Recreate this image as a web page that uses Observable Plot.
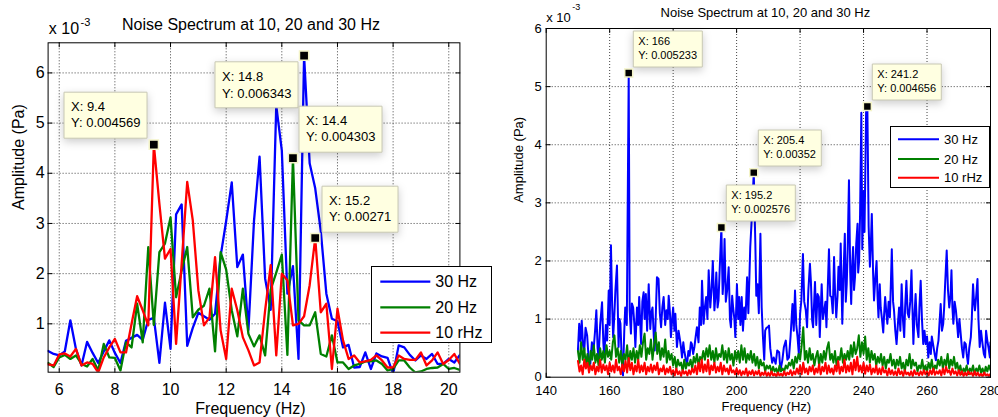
<!DOCTYPE html>
<html><head><meta charset="utf-8">
<script src="https://cdn.jsdelivr.net/npm/d3@7"></script>
<script src="https://cdn.jsdelivr.net/npm/@observablehq/plot@0.6"></script>
<style>
body{margin:0;background:#fff;}
#wrap{position:relative;width:998px;height:417px;overflow:hidden;font-family:"Liberation Sans",Arial,sans-serif;}
#wrap > svg, #wrap > .panel{position:absolute;top:0;}
g[aria-label="tip"]{filter:none !important;}
</style></head><body><div id="wrap"></div>
<script>
// ---------- shared ----------
const seriesNames = ["30 Hz", "20 Hz", "10 rHz"];
const seriesColors = ["#0000ff", "#008000", "#ff0000"];
const chartTitle = "Noise Spectrum at 10, 20 and 30 Hz";
const xLabel = "Frequency (Hz)";
const yLabel = "Amplitude (Pa)";
const yMultiplier = "x 10";
const yExponent = "-3";

// ---------- left panel (values in units of 1e-3 Pa), bins every 0.2 Hz from 5.6 Hz ----------
const leftStartHz = 5.6, leftStepHz = 0.2;
const leftBlue = [0.46,0.40,0.37,0.45,1.07,0.5,0.17,0.64,0.42,0.22,
  0.45,0.67,0.42,0.22,0.66,0.72,0.78,0.68,1.08,1.12,
  0.22,1.42,0.5,3.18,3.38,0.56,0.92,1.22,1.15,1.08,
  1.2,2.35,3.05,3.82,2.13,2.38,0.88,3.05,4.33,1.9,
  1.28,5.35,4.45,1.6,2.15,0.3,6.343,4.2,3.7,2.85,
  1.6,1.1,1.05,0.53,0.58,0.13,0.14,0.43,0.1,0.41,
  0.35,0.32,0.0,0.57,0.53,0.38,0.27,0.37,0.3,0.4,
  0.2,0.2,0.3,0.23,0.38];
const leftGreen = [0.22,0.14,0.33,0.38,0.3,0.37,0.2,0.15,0.3,0.07,
  0.6,0.33,0.32,0.07,0.63,0.53,1.4,0.63,2.53,0.98,
  2.43,2.6,3.12,1.53,2.06,2.53,1.13,1.28,1.36,1.7,
  0.45,2.43,2.08,1.27,0.75,1.7,0.8,0.55,0.77,0.37,
  1.68,2.02,2.38,0.38,4.303,1.07,0.97,0.97,1.23,0.4,
  0.35,0.77,0.23,0.23,0.1,0.17,0.2,0.25,0.25,0.27,
  0.2,0.07,0.1,0.27,0.27,0.13,0.03,0.05,0.1,0.12,
  0.13,0.2,0.1,0.12,0.08];
const leftRed = [0.19,0.17,0.39,0.41,0.35,0.5,0.17,0.23,0.2,0.03,
  0.33,0.53,0.7,0.43,0.43,1.0,1.55,1.27,0.97,4.569,
  3.39,2.3,2.49,0.6,2.2,3.83,3.06,1.67,0.97,1.13,
  2.33,0.87,0.3,1.7,1.27,0.73,0.47,0.17,0.23,1.27,
  2.17,0.37,2.0,1.87,0.97,1.0,1.15,1.77,2.71,1.23,
  1.4,0.1,1.3,0.67,0.3,0.37,0.23,0.25,0.28,0.37,
  0.27,0.13,0.13,0.37,0.3,0.28,0.28,0.43,0.17,0.27,
  0.43,0.2,0.28,0.4,0.2];
const leftXTicks = [6, 8, 10, 12, 14, 16, 18, 20];
const leftYTicks = [1, 2, 3, 4, 5, 6];
const leftTipX = [9.4, 14.8, 14.4, 15.2];
const leftTipY = [0.004569, 0.006343, 0.004303, 0.00271];

// ---------- right panel ----------
// 30 Hz trace: [frequency Hz, amplitude 1e-3 Pa]
const rightBlue = [[150.0,0.46],[150.4,0.92],[150.8,0.62],[151.2,0.97],[151.6,0.55],[152.0,0.46],[152.4,0.85],[152.9,0.72],[153.4,0.3],[153.9,0.23],
[154.4,0.6],[154.9,0.45],[155.4,0.8],[155.8,1.15],[156.2,0.5],[156.5,0.34],[157.0,0.9],[157.6,1.29],[158.0,0.6],[158.3,0.34],
[158.8,0.9],[159.2,0.63],[159.7,1.49],[160.0,0.9],[160.4,2.27],[160.8,1.2],[161.1,0.69],[161.5,1.1],[161.8,1.49],[162.3,1.92],
[162.8,0.52],[163.1,1.0],[163.4,0.92],[163.8,0.3],[164.2,0.03],[164.6,0.8],[164.9,1.2],[165.4,0.9],[166.0,5.233],[166.3,1.15],
[166.7,0.75],[167.0,1.27],[167.4,1.2],[167.8,0.9],[168.1,0.52],[168.6,1.2],[169.0,0.9],[169.3,1.38],[169.9,0.57],[170.3,1.3],
[170.7,1.46],[171.0,1.0],[171.4,1.43],[171.8,0.8],[172.3,1.6],[172.8,0.83],[173.1,1.1],[173.5,1.2],[173.9,0.7],[174.2,0.46],
[174.6,1.2],[174.9,1.72],[175.4,1.69],[175.8,1.1],[176.2,0.86],[176.6,1.2],[177.0,1.38],[177.5,0.9],[177.9,1.15],[178.3,1.0],
[178.6,1.4],[179.0,1.1],[179.3,0.69],[179.7,1.0],[180.0,1.2],[180.4,0.8],[180.7,1.09],[181.2,0.52],[181.7,0.8],[182.1,0.66],
[182.5,0.5],[182.8,0.34],[183.2,0.6],[183.5,0.46],[184.0,0.3],[184.4,0.23],[184.8,0.45],[185.2,0.37],[185.6,0.6],[185.9,0.57],
[186.3,0.4],[186.7,0.52],[187.1,0.7],[187.5,0.86],[188.0,0.6],[188.4,1.2],[188.8,0.9],[189.1,1.66],[189.6,0.92],[190.0,1.2],
[190.4,1.38],[190.8,1.0],[191.2,1.84],[191.7,1.2],[192.1,1.5],[192.5,2.0],[193.0,1.15],[193.3,1.4],[193.6,1.8],[194.0,1.2],
[194.3,1.32],[194.7,1.9],[195.2,2.576],[195.6,1.43],[195.9,1.7],[196.2,2.38],[196.6,1.3],[197.0,1.49],[197.5,1.89],[197.9,1.0],
[198.2,0.86],[198.6,1.4],[198.9,1.2],[199.3,1.0],[199.6,0.69],[200.1,1.6],[200.5,1.0],[200.8,1.38],[201.2,0.9],[201.6,1.38],
[202.0,0.8],[202.4,1.2],[202.8,1.0],[203.3,1.72],[203.7,1.1],[204.3,2.24],[204.9,2.87],[205.4,3.52],[205.9,2.3],[206.2,1.4],
[206.6,1.6],[207.0,1.1],[207.5,2.47],[207.9,1.2],[208.3,0.69],[208.7,0.3],[209.0,0.8],[209.4,0.85],[209.8,0.86],[210.2,0.89],
[210.6,0.5],[211.2,0.25],[211.7,0.34],[212.3,0.23],[212.8,0.46],[213.4,0.43],[213.8,0.11],[214.4,0.29],[214.9,0.52],[215.5,0.63],
[216.0,0.3],[216.5,0.34],[217.0,0.7],[217.6,1.26],[218.0,0.8],[218.4,1.49],[218.8,0.9],[219.2,0.69],[219.6,0.4],[220.0,1.09],
[220.4,1.32],[220.9,2.12],[221.3,1.3],[221.8,1.15],[222.2,0.86],[222.6,1.49],[223.1,1.95],[223.4,1.66],[223.8,0.98],[224.1,0.86],
[224.7,1.64],[225.1,0.9],[225.5,1.43],[225.9,1.38],[226.2,0.69],[226.8,1.6],[227.2,1.0],[227.6,1.15],[228.0,1.3],[228.3,0.86],
[228.7,1.5],[229.1,2.2],[229.5,1.4],[229.9,1.38],[230.3,1.1],[230.7,2.07],[231.0,1.5],[231.4,1.03],[231.8,1.4],[232.1,1.9],
[232.5,1.5],[232.8,2.3],[233.3,0.92],[233.7,1.8],[234.1,2.47],[234.4,1.3],[234.7,1.6],[235.0,2.2],[235.4,3.39],[235.8,1.8],
[236.1,1.26],[236.4,1.9],[236.7,2.24],[237.0,1.5],[237.3,1.72],[237.7,2.3],[238.1,2.64],[238.3,1.8],[238.6,2.0],[238.9,2.8],
[239.3,4.55],[239.6,2.2],[240.0,3.2],[240.3,2.5],[240.8,4.56],[241.2,4.656],[241.6,2.6],[242.0,1.9],[242.3,2.3],[242.6,2.81],
[243.0,1.8],[243.3,1.32],[243.7,1.7],[244.1,2.0],[244.4,1.4],[244.7,1.03],[245.1,1.6],[245.4,1.2],[245.8,1.0],[246.2,0.77],
[246.5,1.1],[246.8,1.38],[247.2,1.1],[247.5,0.92],[247.9,1.3],[248.3,1.03],[248.6,1.6],[248.9,2.2],[249.3,1.3],[249.6,1.15],
[250.0,0.8],[250.4,0.57],[250.8,0.9],[251.2,1.2],[251.6,0.8],[252.0,1.6],[252.4,1.0],[252.8,0.69],[253.1,1.2],[253.5,1.66],
[253.9,1.1],[254.3,1.03],[254.7,1.3],[255.1,1.84],[255.4,1.2],[255.7,0.57],[256.0,1.0],[256.4,1.43],[256.8,0.9],[257.3,0.69],
[257.6,1.2],[258.0,1.66],[258.4,1.0],[258.8,0.57],[259.2,0.8],[259.6,0.57],[260.0,0.7],[260.4,0.34],[260.8,0.6],[261.2,0.4],
[261.5,0.7],[261.9,0.57],[262.4,0.4],[262.8,0.29],[263.2,0.5],[263.6,0.63],[263.9,0.9],[264.3,1.26],[264.7,0.8],[265.1,0.92],
[265.4,1.2],[265.7,1.6],[266.2,2.18],[266.6,1.5],[267.0,1.2],[267.4,1.4],[267.7,1.84],[268.0,1.2],[268.3,0.92],[268.7,1.3],
[269.1,1.15],[269.5,0.9],[269.8,0.69],[270.2,1.0],[270.6,0.75],[271.0,0.5],[271.4,0.34],[271.8,0.6],[272.2,0.57],[272.5,0.4],
[272.9,0.23],[273.3,0.5],[273.8,0.69],[274.1,1.0],[274.5,1.6],[274.8,1.3],[275.1,1.15],[275.5,1.4],[275.9,1.69],[276.2,1.0],
[276.6,0.52],[277.0,0.8],[277.5,0.57],[277.9,0.4],[278.3,0.34],[278.6,0.8],[279.0,0.63],[279.4,0.5],[279.8,0.34],[280.0,0.6]];
// 20 Hz and 10 rHz traces: bins every 0.5 Hz from 150 Hz (1e-3 Pa)
const rightStartHz = 150, rightStepHz = 0.5;
const rightGreen = [0.45,0.25,0.6,0.3,0.5,0.2,0.4,0.15,0.45,0.3,
  0.55,0.25,0.4,0.2,0.5,0.3,0.45,0.25,0.55,0.35,
  0.45,0.3,0.6,0.72,0.35,0.5,0.25,0.45,0.2,0.4,
  0.3,0.55,0.2,0.45,0.3,0.5,0.25,0.45,0.3,0.55,
  0.35,0.6,0.75,0.3,0.5,0.4,0.65,0.3,0.55,0.77,
  0.4,0.6,0.3,0.5,0.35,0.65,0.25,0.45,0.3,0.4,
  0.2,0.35,0.15,0.3,0.2,0.25,0.1,0.3,0.15,0.25,
  0.2,0.3,0.15,0.35,0.25,0.4,0.2,0.35,0.3,0.45,
  0.3,0.5,0.35,0.55,0.3,0.45,0.25,0.5,0.3,0.4,
  0.35,0.55,0.3,0.45,0.25,0.5,0.3,0.4,0.2,0.45,
  0.3,0.45,0.25,0.55,0.3,0.5,0.25,0.4,0.3,0.45,
  0.25,0.4,0.2,0.35,0.15,0.3,0.2,0.25,0.1,0.2,
  0.15,0.2,0.08,0.18,0.1,0.15,0.05,0.2,0.1,0.15,
  0.1,0.2,0.15,0.25,0.2,0.3,0.15,0.35,0.25,0.4,
  0.3,0.55,0.86,0.3,0.45,0.25,0.5,0.3,0.4,0.2,
  0.35,0.45,0.2,0.4,0.25,0.45,0.3,0.5,0.6,0.3,
  0.4,0.25,0.45,0.2,0.35,0.3,0.5,0.25,0.4,0.3,
  0.45,0.3,0.55,0.35,0.6,0.4,0.5,0.72,0.35,0.6,
  0.4,0.7,0.3,0.5,0.25,0.45,0.3,0.4,0.2,0.35,
  0.25,0.4,0.2,0.35,0.15,0.3,0.25,0.4,0.2,0.3,
  0.15,0.3,0.2,0.35,0.15,0.25,0.1,0.3,0.2,0.4,
  0.15,0.3,0.2,0.25,0.1,0.2,0.15,0.3,0.1,0.2,
  0.1,0.25,0.15,0.3,0.1,0.2,0.15,0.3,0.2,0.35,
  0.15,0.3,0.2,0.4,0.15,0.3,0.2,0.35,0.15,0.25,
  0.1,0.2,0.05,0.15,0.1,0.2,0.05,0.15,0.1,0.2,
  0.05,0.15,0.1,0.2,0.08,0.15,0.05,0.18,0.1,0.2,
  0.12];
const rightRed = [0.28,0.1,0.2,0.05,0.3,0.15,0.25,0.08,0.2,0.12,
  0.25,0.05,0.18,0.1,0.3,0.08,0.22,0.12,0.2,0.05,
  0.25,0.1,0.2,0.08,0.3,0.12,0.18,0.05,0.22,0.1,
  0.28,0.08,0.33,0.12,0.25,0.05,0.2,0.1,0.3,0.08,
  0.2,0.1,0.25,0.05,0.18,0.1,0.22,0.08,0.2,0.12,
  0.25,0.05,0.15,0.1,0.2,0.05,0.15,0.08,0.18,0.05,
  0.12,0.03,0.15,0.05,0.1,0.02,0.12,0.06,0.1,0.03,
  0.12,0.05,0.15,0.08,0.2,0.05,0.25,0.1,0.3,0.08,
  0.22,0.1,0.3,0.05,0.2,0.12,0.25,0.08,0.18,0.1,
  0.25,0.05,0.2,0.1,0.15,0.05,0.2,0.08,0.12,0.05,
  0.15,0.05,0.12,0.03,0.1,0.05,0.15,0.02,0.1,0.05,
  0.12,0.03,0.1,0.05,0.12,0.02,0.08,0.04,0.1,0.02,
  0.08,0.02,0.1,0.03,0.06,0.01,0.08,0.03,0.06,0.02,
  0.1,0.03,0.08,0.05,0.12,0.03,0.1,0.05,0.15,0.06,
  0.2,0.05,0.25,0.08,0.15,0.05,0.18,0.1,0.2,0.05,
  0.15,0.08,0.22,0.05,0.18,0.1,0.25,0.06,0.2,0.08,
  0.15,0.05,0.2,0.1,0.28,0.06,0.18,0.1,0.3,0.08,
  0.2,0.1,0.25,0.05,0.3,0.12,0.35,0.1,0.2,0.08,
  0.25,0.06,0.2,0.1,0.22,0.05,0.15,0.08,0.2,0.05,
  0.15,0.05,0.18,0.08,0.12,0.03,0.15,0.05,0.12,0.04,
  0.1,0.03,0.15,0.05,0.1,0.02,0.12,0.05,0.08,0.03,
  0.1,0.02,0.12,0.05,0.08,0.03,0.1,0.04,0.12,0.05,
  0.1,0.03,0.12,0.05,0.15,0.04,0.1,0.06,0.12,0.03,
  0.15,0.05,0.18,0.08,0.12,0.04,0.15,0.06,0.1,0.03,
  0.12,0.04,0.1,0.02,0.08,0.03,0.1,0.05,0.08,0.02,
  0.1,0.03,0.08,0.02,0.06,0.01,0.08,0.03,0.05,0.02,
  0.06];
const rightXTicks = [140, 160, 180, 200, 220, 240, 260, 280];
const rightYTicks = [0, 1, 2, 3, 4, 5, 6];
const rightTipX = [166, 241.2, 205.4, 195.2];
const rightTipY = [0.005233, 0.004656, 0.00352, 0.002576];

// ---------- build rows ----------
const leftRows = [];
[leftBlue, leftGreen, leftRed].forEach((arr, k) => arr.forEach((v, i) =>
  leftRows.push({f: +(leftStartHz + i * leftStepHz).toFixed(2), a: v, s: seriesNames[k]})));
const rightRows = [];
rightBlue.forEach(([f, v]) => rightRows.push({f, a: v, s: seriesNames[0]}));
[rightGreen, rightRed].forEach((arr, k) => arr.forEach((v, i) =>
  rightRows.push({f: rightStartHz + i * rightStepHz, a: v, s: seriesNames[k + 1]})));

const FONT = '"Liberation Sans", Arial, Helvetica, sans-serif';
const gridStyle = {stroke: "#444", strokeOpacity: 1, strokeDasharray: "1,2", strokeWidth: 1};
const tickShape = {draw(context, l) { context.moveTo(0, 0); context.lineTo(0, -l); }};

function inwardTicks(values, channel, frameAnchor, rotate) {
  const o = {frameAnchor, rotate, length: 4, anchor: "start", shape: tickShape, stroke: "#000", strokeWidth: 1};
  o[channel] = d => d;
  return Plot.vector(values, o);
}

function panel(cfg) {
  const tipMarks = [];
  cfg.tipX.forEach((tx, i) => {
    const a = cfg.tipAnchor[i];
    tipMarks.push(Plot.tip([i], {
      x: () => tx, y: () => cfg.tipY[i] * 1000,
      title: () => `X: ${tx}\nY: ${cfg.tipY[i]}`,
      anchor: a, pointerSize: 0,
      dx: a.endsWith("left") ? cfg.tipDx : -cfg.tipDx,
      dy: a.startsWith("bottom") ? -cfg.tipDy : cfg.tipDy,
      fill: "#ffffe1", stroke: "#c8c8b4", strokeWidth: 1,
      fontSize: cfg.tipFont, textPadding: cfg.tipPad, lineHeight: cfg.tipLH, fontFamily: FONT
    }));
  });
  const idx = cfg.tipX.map((_, i) => i);
  const fmt = d => String(d);
  return Plot.plot({
    width: cfg.w, height: 417,
    marginLeft: cfg.ml, marginRight: cfg.mr, marginTop: cfg.mt, marginBottom: cfg.mb,
    style: {fontFamily: FONT, fontSize: cfg.font + "px", background: "transparent", color: "#000", overflow: "visible"},
    x: {domain: cfg.xDomain},
    y: {domain: cfg.yDomain},
    color: {domain: seriesNames, range: seriesColors},
    marks: [
      Plot.gridX(cfg.xGrid, gridStyle),
      Plot.gridY(cfg.yGrid, gridStyle),
      Plot.line(cfg.rows, {x: "f", y: "a", z: "s", stroke: "s", strokeWidth: cfg.lw, clip: true}),
      Plot.frame({stroke: "#000", strokeWidth: 1}),
      inwardTicks(cfg.xTicks, "x", "bottom", 0),
      inwardTicks(cfg.xTicks, "x", "top", 180),
      inwardTicks(cfg.yTicks, "y", "left", 90),
      inwardTicks(cfg.yTicks, "y", "right", -90),
      Plot.axisX(cfg.xTicks, {anchor: "bottom", tickSize: 0, tickPadding: cfg.xPad, fontSize: cfg.font, tickFormat: fmt, label: null}),
      Plot.axisY(cfg.yTicks, {anchor: "left", tickSize: 0, tickPadding: cfg.yPad, fontSize: cfg.font, tickFormat: fmt, label: null}),
      ...tipMarks,
      Plot.dot(idx, {x: i => cfg.tipX[i], y: i => cfg.tipY[i] * 1000, symbol: "square", r: cfg.dotR, fill: "#000", stroke: "#f4f4c8", strokeWidth: 1.5}),
      Plot.text([chartTitle], {text: d => d, frameAnchor: "top", lineAnchor: "middle", dy: cfg.titleDy, dx: cfg.titleDx, fontSize: cfg.font}),
      Plot.text([xLabel], {text: d => d, frameAnchor: "bottom", lineAnchor: "middle", dy: cfg.xlabDy, dx: cfg.xlabDx, fontSize: cfg.font}),
      Plot.text([yLabel], {text: d => d, frameAnchor: "left", lineAnchor: "middle", rotate: -90, dx: cfg.ylabDx, dy: cfg.ylabDy, fontSize: cfg.font}),
      Plot.text([yMultiplier], {text: d => d, frameAnchor: "top-left", lineAnchor: "middle", textAnchor: "start", dx: cfg.mulDx, dy: cfg.mulDy, fontSize: cfg.font}),
      Plot.text([yExponent], {text: d => d, frameAnchor: "top-left", lineAnchor: "middle", textAnchor: "start", dx: cfg.expDx, dy: cfg.expDy, fontSize: cfg.expFont})
    ]
  });
}

const wrap = document.getElementById("wrap");

const leftSvg = panel({
  w: 500, ml: 47.6, mr: 40.6, mt: 42.3, mb: 45.3,
  xDomain: [5.6, 20.4], yDomain: [0.036, 6.6],
  rows: leftRows, xTicks: leftXTicks, yTicks: leftYTicks, xGrid: leftXTicks, yGrid: leftYTicks,
  font: 16, lw: 2.3, xPad: 11, yPad: 3.5,
  tipX: leftTipX, tipY: leftTipY, tipAnchor: ["bottom-right", "top-right", "bottom-left", "bottom-left"],
  tipDx: 6.5, tipDy: 6.3, tipFont: 13, tipPad: 7, tipLH: 1.28, dotR: 5.2,
  titleDy: -18, titleDx: -3, xlabDy: 36.6, xlabDx: -3.6, ylabDx: -29.3, ylabDy: 2.5,
  mulDx: 0.7, mulDy: -13.8, expDx: 32.4, expDy: -20.3, expFont: 11
});
leftSvg.style.left = "0px";
wrap.appendChild(leftSvg);

const rightSvg = panel({
  w: 498, ml: 45.7, mr: 8, mt: 28, mb: 40.3,
  xDomain: [140, 280], yDomain: [0, 6],
  rows: rightRows, xTicks: rightXTicks, yTicks: rightYTicks, xGrid: [160, 180, 200, 220, 240, 260], yGrid: [1, 2, 3, 4, 5],
  font: 13, lw: 2, xPad: 9, yPad: 4.5,
  tipX: rightTipX, tipY: rightTipY, tipAnchor: ["bottom-left", "bottom-left", "bottom-left", "bottom-left"],
  tipDx: 4.8, tipDy: 6.5, tipFont: 11, tipPad: 5, tipLH: 1.25, dotR: 4.5,
  titleDy: -15.7, titleDx: -3, xlabDy: 30, xlabDx: -2, ylabDx: -27.7, ylabDy: 0,
  mulDx: 0, mulDy: -11, expDx: 26, expDy: -21.3, expFont: 9
});
rightSvg.style.left = "500px";
wrap.appendChild(rightSvg);

// ---------- legends ----------
function legend(box, lx1, lx2, ys, tx, fs, lw) {
  const svg = d3.select(wrap).append("svg").attr("class", "panel")
    .style("left", box.x + "px").style("top", box.y + "px")
    .attr("width", box.w).attr("height", box.h);
  svg.append("rect").attr("x", 0.5).attr("y", 0.5).attr("width", box.w - 1).attr("height", box.h - 1)
    .attr("fill", "#fff").attr("stroke", "#000");
  seriesNames.forEach((name, i) => {
    svg.append("line").attr("x1", lx1).attr("x2", lx2).attr("y1", ys[i]).attr("y2", ys[i])
      .attr("stroke", seriesColors[i]).attr("stroke-width", lw);
    svg.append("text").attr("x", tx).attr("y", ys[i]).attr("dy", "0.35em")
      .attr("font-family", FONT).attr("font-size", fs).text(name);
  });
}
legend({x: 370.7, y: 266, w: 121, h: 77}, 9.3, 59.3, [15.7, 41.3, 66.7], 64.3, 16, 2.3);
legend({x: 890, y: 126, w: 100, h: 62}, 8, 49, [13.3, 33, 51.7], 54, 13, 2);
</script></body></html>
